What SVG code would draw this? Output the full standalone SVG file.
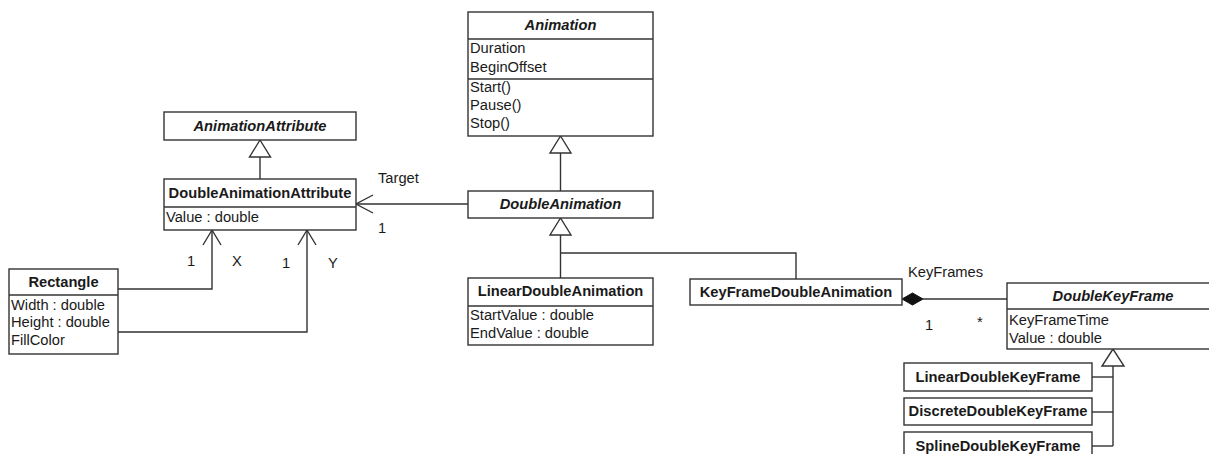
<svg xmlns="http://www.w3.org/2000/svg" width="1209" height="454" viewBox="0 0 1209 454">
  <style>
    .box { fill: #ffffff; stroke: #333333; stroke-width: 1.4; }
    .sep { stroke: #333333; stroke-width: 1.4; }
    .line { fill: none; stroke: #333333; stroke-width: 1.4; }
    .tri { fill: #ffffff; stroke: #333333; stroke-width: 1.4; stroke-linejoin: miter; }
    .dia { fill: #111111; stroke: #111111; stroke-width: 1; }
    text { font-family: "Liberation Sans", Arial, sans-serif; font-size: 14.7px; fill: #1a1a1a; }
    .title { font-weight: bold; text-anchor: middle; }
    .abstract { font-weight: bold; font-style: italic; text-anchor: middle; }
  </style>
  <rect width="1209" height="454" fill="#ffffff"/>

  <!-- connectors -->
  <g id="connectors">
    <!-- DoubleAnimationAttribute generalizes AnimationAttribute -->
    <line class="line" x1="260" y1="157" x2="260" y2="179"/>
    <polygon class="tri" points="260,140 249.5,157 270.5,157"/>

    <!-- DoubleAnimation generalizes Animation -->
    <line class="line" x1="560.5" y1="153" x2="560.5" y2="191"/>
    <polygon class="tri" points="560.5,136 550,153 571,153"/>

    <!-- Linear / KeyFrame animations generalize DoubleAnimation -->
    <polyline class="line" points="560.5,235 560.5,278"/>
    <polyline class="line" points="560.5,253 796,253 796,279"/>
    <polygon class="tri" points="560.5,218 550,235 571,235"/>

    <!-- Target association -->
    <line class="line" x1="468" y1="204" x2="356" y2="204"/>
    <polyline class="line" points="373,195 356,204 373,213"/>
    <text x="378" y="183">Target</text>
    <text x="378" y="233">1</text>

    <!-- X association -->
    <polyline class="line" points="118,289 212,289 212,230"/>
    <polyline class="line" points="203,245 212,230 221,245"/>
    <text x="187" y="266">1</text>
    <text x="232" y="266">X</text>

    <!-- Y association -->
    <polyline class="line" points="118,332 307,332 307,230"/>
    <polyline class="line" points="298,245 307,230 316,245"/>
    <text x="282" y="268">1</text>
    <text x="328" y="268">Y</text>

    <!-- KeyFrames composition -->
    <line class="line" x1="923" y1="299" x2="1007" y2="299"/>
    <polygon class="dia" points="902,299 912.5,293 923,299 912.5,305"/>
    <text x="908" y="277">KeyFrames</text>
    <text x="925" y="330">1</text>
    <text x="977" y="327">*</text>

    <!-- key frame subclasses generalize DoubleKeyFrame -->
    <line class="line" x1="1113" y1="366" x2="1113" y2="446"/>
    <line class="line" x1="1092" y1="377" x2="1113" y2="377"/>
    <line class="line" x1="1092" y1="412" x2="1113" y2="412"/>
    <line class="line" x1="1092" y1="446" x2="1113" y2="446"/>
    <polygon class="tri" points="1113,349 1102,366 1124,366"/>
  </g>

  <g id="AnimationAttribute">
    <rect class="box" x="164" y="112" width="192" height="28"/>
    <text class="abstract" x="260" y="131">AnimationAttribute</text>
  </g>

  <g id="DoubleAnimationAttribute">
    <rect class="box" x="164" y="179" width="192" height="51"/>
    <line class="sep" x1="164" y1="207" x2="356" y2="207"/>
    <text class="title" x="260" y="198">DoubleAnimationAttribute</text>
    <text x="166" y="222">Value : double</text>
  </g>

  <g id="Rectangle">
    <rect class="box" x="9" y="269" width="109" height="85"/>
    <line class="sep" x1="9" y1="295" x2="118" y2="295"/>
    <text class="title" x="63.5" y="287">Rectangle</text>
    <text x="11" y="310">Width : double</text>
    <text x="11" y="327">Height : double</text>
    <text x="11" y="345">FillColor</text>
  </g>

  <g id="Animation">
    <rect class="box" x="468" y="12" width="185" height="124"/>
    <line class="sep" x1="468" y1="39" x2="653" y2="39"/>
    <line class="sep" x1="468" y1="79" x2="653" y2="79"/>
    <text class="abstract" x="560.5" y="30">Animation</text>
    <text x="470" y="53">Duration</text>
    <text x="470" y="72">BeginOffset</text>
    <text x="470" y="92">Start()</text>
    <text x="470" y="110">Pause()</text>
    <text x="470" y="128">Stop()</text>
  </g>

  <g id="DoubleAnimation">
    <rect class="box" x="468" y="191" width="185" height="27"/>
    <text class="abstract" x="560.5" y="209">DoubleAnimation</text>
  </g>

  <g id="LinearDoubleAnimation">
    <rect class="box" x="468" y="278" width="185" height="67"/>
    <line class="sep" x1="468" y1="306" x2="653" y2="306"/>
    <text class="title" x="560.5" y="296">LinearDoubleAnimation</text>
    <text x="470" y="320">StartValue : double</text>
    <text x="470" y="338">EndValue : double</text>
  </g>

  <g id="KeyFrameDoubleAnimation">
    <rect class="box" x="690" y="279" width="212" height="26"/>
    <text class="title" x="796" y="297">KeyFrameDoubleAnimation</text>
  </g>

  <g id="DoubleKeyFrame">
    <rect class="box" x="1007" y="283" width="212" height="66"/>
    <line class="sep" x1="1007" y1="309" x2="1219" y2="309"/>
    <text class="abstract" x="1113" y="301">DoubleKeyFrame</text>
    <text x="1009" y="325">KeyFrameTime</text>
    <text x="1009" y="343">Value : double</text>
  </g>

  <g id="LinearDoubleKeyFrame">
    <rect class="box" x="904" y="363" width="188" height="28"/>
    <text class="title" x="998" y="382">LinearDoubleKeyFrame</text>
  </g>

  <g id="DiscreteDoubleKeyFrame">
    <rect class="box" x="904" y="398" width="188" height="27"/>
    <text class="title" x="998" y="416">DiscreteDoubleKeyFrame</text>
  </g>

  <g id="SplineDoubleKeyFrame">
    <rect class="box" x="904" y="432" width="188" height="28"/>
    <text class="title" x="998" y="451">SplineDoubleKeyFrame</text>
  </g>
</svg>
